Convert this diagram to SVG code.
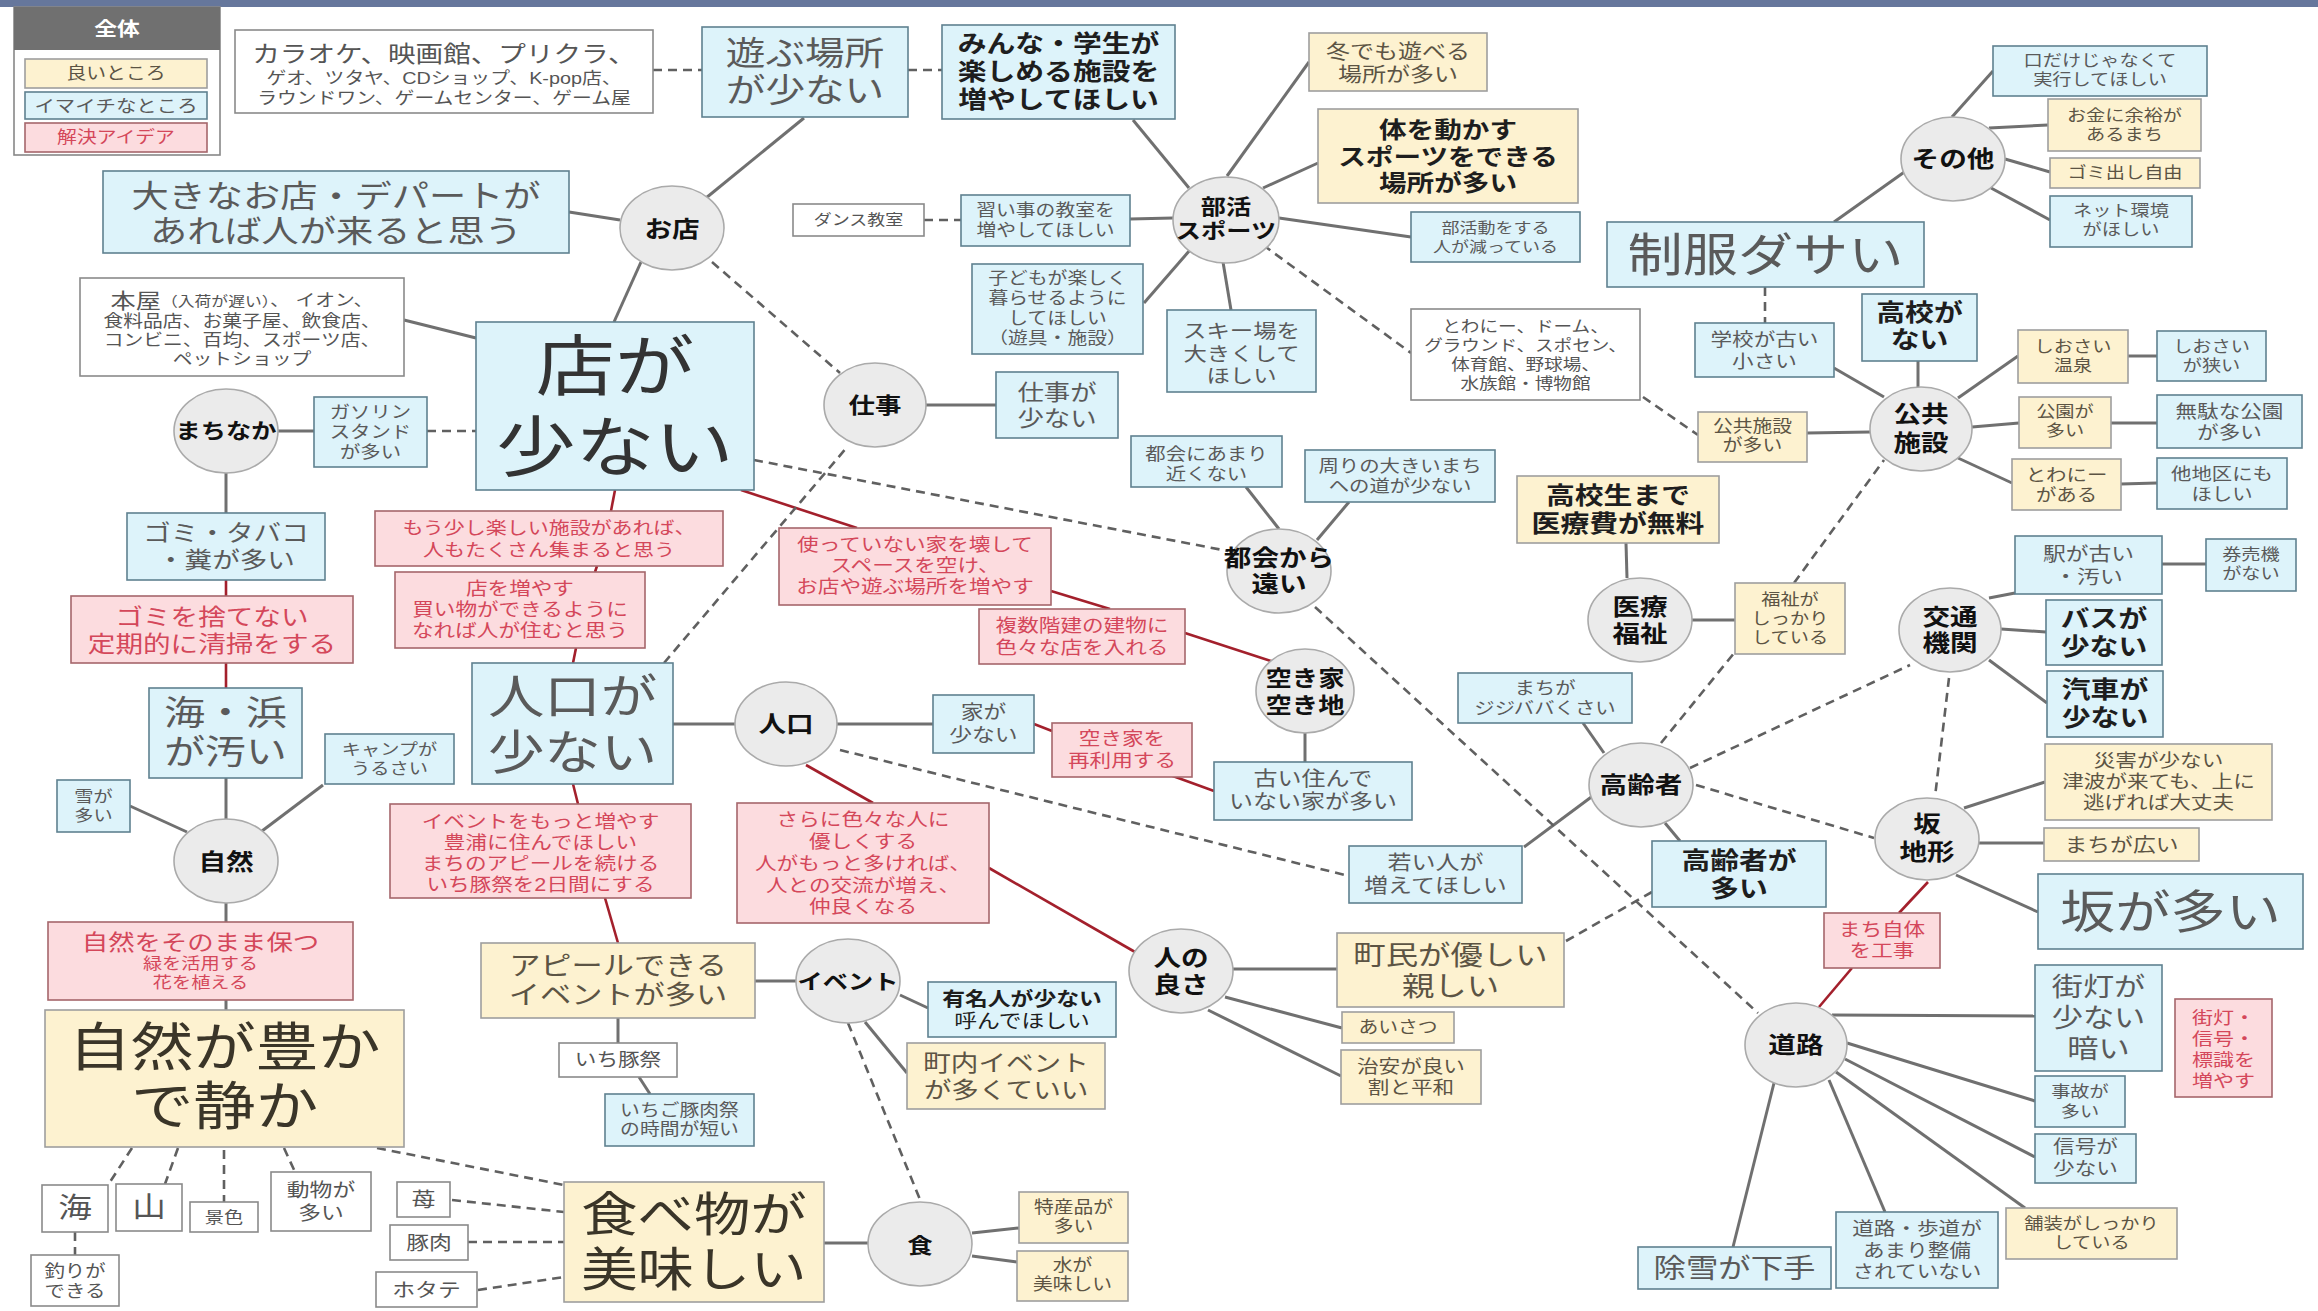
<svg xmlns="http://www.w3.org/2000/svg" width="2318" height="1311" viewBox="0 0 2318 1311">
<style>
.b{fill:#ddf3fa;stroke:#5f8190;stroke-width:1.6}
.y{fill:#fdf2d0;stroke:#9e9e9e;stroke-width:1.6}
.p{fill:#fcdcdf;stroke:#a5666b;stroke-width:1.6}
.w{fill:#fff;stroke:#8a8a8a;stroke-width:1.6}
.c{fill:#ebebeb;stroke:#aaa;stroke-width:1.6}
.t{font-family:"Liberation Sans","Noto Sans CJK JP","Noto Sans CJK SC",sans-serif;text-anchor:middle;dominant-baseline:central;transform-box:fill-box;transform-origin:center;transform:scaleX(1.2)}
.tb{fill:#5a5a5a}
.ty{fill:#5c5444}
.tp{fill:#d4475a}
.tw{fill:#555}
.tk{fill:#1e1e1e;font-weight:bold}
.tc{fill:#111;font-weight:bold}
.cg{stroke:#707070;stroke-width:3;fill:none}
.cr{stroke:#a3202c;stroke-width:2.6;fill:none}
.cd{stroke:#606060;stroke-width:2.6;stroke-dasharray:9 6;fill:none}
</style>
<rect x="0" y="0" width="2318" height="1311" fill="#fff"/>
<rect x="0" y="0" width="2318" height="7" fill="#66779c"/>

<g id="legend">
<rect x="14" y="7" width="206" height="148" fill="#fff" stroke="#888" stroke-width="1.6"/>
<rect x="14" y="7" width="206" height="43" fill="#707070"/>
<text class="t" x="117" y="29" font-size="19" fill="#fff" font-weight="bold">全体</text>
<rect class="y" x="25" y="59" width="182" height="29"/>
<text class="t ty" x="116" y="74" font-size="16.5">良いところ</text>
<rect class="b" x="25" y="92" width="182" height="27"/>
<text class="t tb" x="116" y="106" font-size="17">イマイチなところ</text>
<rect class="p" x="25" y="123" width="182" height="29"/>
<text class="t tp" x="116" y="138" font-size="16.5">解決アイデア</text>
</g>

<g id="connectors">
<line class="cg" x1="804" y1="118" x2="706" y2="198"/>
<line class="cg" x1="569" y1="212" x2="620" y2="220"/>
<line class="cg" x1="641" y1="262" x2="614" y2="322"/>
<line class="cg" x1="404" y1="320" x2="476" y2="338"/>
<line class="cg" x1="278" y1="431" x2="314" y2="431"/>
<line class="cg" x1="226" y1="473" x2="226" y2="513"/>
<line class="cg" x1="226" y1="778" x2="226" y2="820"/>
<line class="cg" x1="130" y1="806" x2="187" y2="832"/>
<line class="cg" x1="323" y1="785" x2="262" y2="831"/>
<line class="cg" x1="226" y1="903" x2="226" y2="922"/>
<line class="cg" x1="226" y1="1000" x2="226" y2="1010"/>
<line class="cg" x1="824" y1="1243" x2="869" y2="1243"/>
<line class="cg" x1="972" y1="1233" x2="1019" y2="1228"/>
<line class="cg" x1="972" y1="1256" x2="1017" y2="1262"/>
<line class="cg" x1="755" y1="981" x2="796" y2="981"/>
<line class="cg" x1="618" y1="1018" x2="618" y2="1043"/>
<line class="cg" x1="639" y1="1077" x2="650" y2="1094"/>
<line class="cg" x1="900" y1="995" x2="928" y2="1008"/>
<line class="cg" x1="865" y1="1022" x2="907" y2="1073"/>
<line class="cg" x1="673" y1="724" x2="735" y2="724"/>
<line class="cg" x1="837" y1="724" x2="933" y2="724"/>
<line class="cg" x1="1305" y1="733" x2="1305" y2="762"/>
<line class="cg" x1="1233" y1="969" x2="1337" y2="969"/>
<line class="cg" x1="1225" y1="997" x2="1342" y2="1028"/>
<line class="cg" x1="1208" y1="1010" x2="1341" y2="1076"/>
<line class="cg" x1="1524" y1="847" x2="1594" y2="795"/>
<line class="cg" x1="1604" y1="753" x2="1583" y2="723"/>
<line class="cg" x1="1665" y1="823" x2="1680" y2="841"/>
<line class="cg" x1="1279" y1="529" x2="1246" y2="487"/>
<line class="cg" x1="1317" y1="540" x2="1349" y2="502"/>
<line class="cg" x1="1692" y1="620" x2="1735" y2="620"/>
<line class="cg" x1="1627" y1="578" x2="1626" y2="543"/>
<line class="cg" x1="1989" y1="598" x2="2015" y2="593"/>
<line class="cg" x1="2001" y1="629" x2="2046" y2="632"/>
<line class="cg" x1="1989" y1="660" x2="2047" y2="703"/>
<line class="cg" x1="2162" y1="564" x2="2206" y2="564"/>
<line class="cg" x1="1964" y1="808" x2="2045" y2="782"/>
<line class="cg" x1="1979" y1="843" x2="2044" y2="843"/>
<line class="cg" x1="1956" y1="875" x2="2038" y2="912"/>
<line class="cg" x1="1832" y1="1015" x2="2035" y2="1016"/>
<line class="cg" x1="1847" y1="1043" x2="2035" y2="1101"/>
<line class="cg" x1="1845" y1="1059" x2="2035" y2="1157"/>
<line class="cg" x1="1836" y1="1072" x2="2025" y2="1208"/>
<line class="cg" x1="1829" y1="1080" x2="1885" y2="1212"/>
<line class="cg" x1="1774" y1="1083" x2="1733" y2="1247"/>
<line class="cg" x1="1884" y1="397" x2="1834" y2="368"/>
<line class="cg" x1="1918" y1="388" x2="1918" y2="361"/>
<line class="cg" x1="1958" y1="398" x2="2018" y2="356"/>
<line class="cg" x1="1972" y1="427" x2="2019" y2="423"/>
<line class="cg" x1="1958" y1="458" x2="2012" y2="483"/>
<line class="cg" x1="1870" y1="432" x2="1807" y2="433"/>
<line class="cg" x1="2128" y1="356" x2="2157" y2="356"/>
<line class="cg" x1="2111" y1="423" x2="2157" y2="423"/>
<line class="cg" x1="2121" y1="484" x2="2157" y2="483"/>
<line class="cg" x1="1834" y1="222" x2="1910" y2="168"/>
<line class="cg" x1="1952" y1="117" x2="1993" y2="71"/>
<line class="cg" x1="1989" y1="128" x2="2048" y2="125"/>
<line class="cg" x1="2005" y1="159" x2="2050" y2="172"/>
<line class="cg" x1="1991" y1="188" x2="2050" y2="220"/>
<line class="cg" x1="1227" y1="176" x2="1309" y2="62"/>
<line class="cg" x1="1263" y1="188" x2="1318" y2="163"/>
<line class="cg" x1="1279" y1="218" x2="1411" y2="237"/>
<line class="cg" x1="1223" y1="262" x2="1231" y2="310"/>
<line class="cg" x1="1130" y1="219" x2="1173" y2="218"/>
<line class="cg" x1="1144" y1="303" x2="1190" y2="250"/>
<line class="cg" x1="1133" y1="120" x2="1189" y2="188"/>
<line class="cg" x1="926" y1="405" x2="996" y2="405"/>
<line class="cr" x1="226" y1="580" x2="226" y2="596"/>
<line class="cr" x1="226" y1="663" x2="226" y2="688"/>
<line class="cr" x1="605" y1="898" x2="618" y2="943"/>
<line class="cr" x1="573" y1="784" x2="578" y2="804"/>
<line class="cr" x1="573" y1="663" x2="576" y2="648"/>
<line class="cr" x1="595" y1="572" x2="597" y2="566"/>
<line class="cr" x1="611" y1="511" x2="615" y2="490"/>
<line class="cr" x1="741" y1="490" x2="857" y2="528"/>
<line class="cr" x1="1051" y1="591" x2="1110" y2="609"/>
<line class="cr" x1="1185" y1="633" x2="1274" y2="662"/>
<line class="cr" x1="1034" y1="724" x2="1052" y2="731"/>
<line class="cr" x1="1170" y1="775" x2="1214" y2="791"/>
<line class="cr" x1="806" y1="765" x2="873" y2="803"/>
<line class="cr" x1="989" y1="868" x2="1135" y2="952"/>
<line class="cr" x1="1928" y1="882" x2="1899" y2="913"/>
<line class="cr" x1="1852" y1="968" x2="1819" y2="1007"/>
<line class="cd" x1="653" y1="70" x2="702" y2="70"/>
<line class="cd" x1="908" y1="70" x2="942" y2="70"/>
<line class="cd" x1="712" y1="262" x2="840" y2="373"/>
<line class="cd" x1="427" y1="431" x2="476" y2="431"/>
<line class="cd" x1="924" y1="220" x2="961" y2="220"/>
<line class="cd" x1="754" y1="460" x2="1228" y2="551"/>
<line class="cd" x1="664" y1="663" x2="848" y2="446"/>
<line class="cd" x1="840" y1="750" x2="1349" y2="876"/>
<line class="cd" x1="1566" y1="941" x2="1652" y2="892"/>
<line class="cd" x1="1315" y1="607" x2="1758" y2="1013"/>
<line class="cd" x1="1661" y1="743" x2="1735" y2="652"/>
<line class="cd" x1="1794" y1="583" x2="1884" y2="460"/>
<line class="cd" x1="1690" y1="768" x2="1910" y2="665"/>
<line class="cd" x1="1696" y1="785" x2="1874" y2="838"/>
<line class="cd" x1="1949" y1="678" x2="1935" y2="797"/>
<line class="cd" x1="1765" y1="287" x2="1765" y2="323"/>
<line class="cd" x1="1643" y1="397" x2="1698" y2="435"/>
<line class="cd" x1="1263" y1="245" x2="1411" y2="353"/>
<line class="cd" x1="132" y1="1148" x2="108" y2="1185"/>
<line class="cd" x1="178" y1="1148" x2="165" y2="1184"/>
<line class="cd" x1="224" y1="1150" x2="224" y2="1202"/>
<line class="cd" x1="284" y1="1148" x2="295" y2="1172"/>
<line class="cd" x1="377" y1="1148" x2="564" y2="1185"/>
<line class="cd" x1="75" y1="1232" x2="75" y2="1255"/>
<line class="cd" x1="452" y1="1200" x2="564" y2="1212"/>
<line class="cd" x1="468" y1="1242" x2="564" y2="1242"/>
<line class="cd" x1="478" y1="1290" x2="564" y2="1277"/>
<line class="cd" x1="848" y1="1023" x2="921" y2="1202"/>
</g>

<g id="n-karaoke"><rect class="w" x="235" y="30" width="418" height="83"/>
<text class="t tw"><tspan x="444" y="54" font-size="23">カラオケ、映画館、プリクラ、</tspan><tspan x="444" y="79" font-size="16.5">ゲオ、ツタヤ、CDショップ、K-pop店、</tspan><tspan x="444" y="99" font-size="16.5">ラウンドワン、ゲームセンター、ゲーム屋</tspan></text></g>
<g id="n-asobu"><rect class="b" x="702" y="27" width="206" height="90"/>
<text class="t tb" font-size="33"><tspan x="805" y="53">遊ぶ場所</tspan><tspan x="805" y="90.5">が少ない</tspan></text></g>
<g id="n-minna"><rect class="b" x="942" y="25" width="233" height="94"/>
<text class="t tk" font-size="24"><tspan x="1058.5" y="44">みんな・学生が</tspan><tspan x="1058.5" y="72">楽しめる施設を</tspan><tspan x="1058.5" y="100">増やしてほしい</tspan></text></g>
<g id="n-ookina"><rect class="b" x="103" y="171" width="466" height="82"/>
<text class="t tb" font-size="31"><tspan x="336" y="196">大きなお店・デパートが</tspan><tspan x="336" y="231">あれば人が来ると思う</tspan></text></g>
<g id="n-honya"><rect class="w" x="80" y="278" width="324" height="98"/>
<text class="t tw" font-size="16.5"><tspan x="242" y="301"><tspan font-size="21">本屋</tspan><tspan font-size="14">（入荷が遅い）</tspan>、 イオン、</tspan><tspan x="242" y="322">食料品店、お菓子屋、飲食店、</tspan><tspan x="242" y="341">コンビニ、百均、スポーツ店、</tspan><tspan x="242" y="360">ペットショップ</tspan></text></g>
<g id="n-dance"><rect class="w" x="793" y="204" width="131" height="32"/>
<text class="t tw" x="858.5" y="220" font-size="15">ダンス教室</text></g>
<g id="n-narai"><rect class="b" x="961" y="195" width="169" height="51"/>
<text class="t tb" font-size="16.5"><tspan x="1045.5" y="211">習い事の教室を</tspan><tspan x="1045.5" y="231">増やしてほしい</tspan></text></g>
<g id="n-kodomo"><rect class="b" x="972" y="264" width="171" height="90"/>
<text class="t tb" font-size="16.5"><tspan x="1057.5" y="279">子どもが楽しく</tspan><tspan x="1057.5" y="299">暮らせるように</tspan><tspan x="1057.5" y="319">してほしい</tspan><tspan x="1057.5" y="339">（遊具・施設）</tspan></text></g>
<g id="n-shigotoga"><rect class="b" x="996" y="372" width="122" height="66"/>
<text class="t tb" font-size="22"><tspan x="1057" y="392">仕事が</tspan><tspan x="1057" y="418">少ない</tspan></text></g>
<g id="n-fuyu"><rect class="y" x="1309" y="33" width="178" height="58"/>
<text class="t ty" font-size="20"><tspan x="1398" y="52">冬でも遊べる</tspan><tspan x="1398" y="75">場所が多い</tspan></text></g>
<g id="n-karada"><rect class="y" x="1318" y="109" width="260" height="94"/>
<text class="t tk" font-size="23"><tspan x="1448" y="130">体を動かす</tspan><tspan x="1448" y="157">スポーツをできる</tspan><tspan x="1448" y="183">場所が多い</tspan></text></g>
<g id="n-bukatsudo"><rect class="b" x="1411" y="212" width="169" height="50"/>
<text class="t tb" font-size="15"><tspan x="1495.5" y="228">部活動をする</tspan><tspan x="1495.5" y="247">人が減っている</tspan></text></g>
<g id="n-seifuku"><rect class="b" x="1607" y="222" width="317" height="65"/>
<text class="t tb" x="1765.5" y="255" font-size="46">制服ダサい</text></g>
<g id="n-ski"><rect class="b" x="1167" y="310" width="149" height="82"/>
<text class="t tb" font-size="19.5"><tspan x="1241.5" y="332">スキー場を</tspan><tspan x="1241.5" y="355">大きくして</tspan><tspan x="1241.5" y="377">ほしい</tspan></text></g>
<g id="n-towany-list"><rect class="w" x="1411" y="309" width="229" height="91"/>
<text class="t tw" font-size="15.5"><tspan x="1525.5" y="327">とわにー、ドーム、</tspan><tspan x="1525.5" y="346">グラウンド、スポセン、</tspan><tspan x="1525.5" y="365">体育館、野球場、</tspan><tspan x="1525.5" y="384">水族館・博物館</tspan></text></g>
<g id="n-gakko"><rect class="b" x="1695" y="323" width="139" height="54"/>
<text class="t tb" font-size="18"><tspan x="1764.5" y="340">学校が古い</tspan><tspan x="1764.5" y="362">小さい</tspan></text></g>
<g id="n-kokyo-ooi"><rect class="y" x="1698" y="412" width="109" height="50"/>
<text class="t ty" font-size="16.5"><tspan x="1752.5" y="427">公共施設</tspan><tspan x="1752.5" y="446">が多い</tspan></text></g>
<g id="n-kuchi"><rect class="b" x="1993" y="46" width="214" height="50"/>
<text class="t tb" font-size="16"><tspan x="2100" y="61">口だけじゃなくて</tspan><tspan x="2100" y="80">実行してほしい</tspan></text></g>
<g id="n-okane"><rect class="y" x="2048" y="99" width="153" height="52"/>
<text class="t ty" font-size="16"><tspan x="2124.5" y="116">お金に余裕が</tspan><tspan x="2124.5" y="135">あるまち</tspan></text></g>
<g id="n-gomidashi"><rect class="y" x="2050" y="158" width="150" height="30"/>
<text class="t ty" x="2125" y="173" font-size="16">ゴミ出し自由</text></g>
<g id="n-net"><rect class="b" x="2050" y="196" width="142" height="51"/>
<text class="t tb" font-size="16"><tspan x="2121" y="211">ネット環境</tspan><tspan x="2121" y="230">がほしい</tspan></text></g>
<g id="n-kokoga"><rect class="b" x="1862" y="294" width="115" height="67"/>
<text class="t tk" font-size="24"><tspan x="1919.5" y="313">高校が</tspan><tspan x="1919.5" y="340">ない</tspan></text></g>
<g id="n-shiosai-onsen"><rect class="y" x="2018" y="330" width="110" height="53"/>
<text class="t ty" font-size="16"><tspan x="2073" y="347">しおさい</tspan><tspan x="2073" y="366">温泉</tspan></text></g>
<g id="n-shiosai-semai"><rect class="b" x="2157" y="331" width="109" height="50"/>
<text class="t tb" font-size="16"><tspan x="2211.5" y="347">しおさい</tspan><tspan x="2211.5" y="366">が狭い</tspan></text></g>
<g id="n-koen"><rect class="y" x="2019" y="397" width="92" height="51"/>
<text class="t ty" font-size="16"><tspan x="2065" y="412">公園が</tspan><tspan x="2065" y="431">多い</tspan></text></g>
<g id="n-muda"><rect class="b" x="2157" y="395" width="145" height="53"/>
<text class="t tb" font-size="18"><tspan x="2229.5" y="412">無駄な公園</tspan><tspan x="2229.5" y="433">が多い</tspan></text></g>
<g id="n-towany-aru"><rect class="y" x="2012" y="459" width="109" height="51"/>
<text class="t ty" font-size="17"><tspan x="2066.5" y="475">とわにー</tspan><tspan x="2066.5" y="495">がある</tspan></text></g>
<g id="n-tachiku"><rect class="b" x="2157" y="458" width="130" height="51"/>
<text class="t tb" font-size="17"><tspan x="2222" y="474">他地区にも</tspan><tspan x="2222" y="494">ほしい</tspan></text></g>
<g id="n-eki"><rect class="b" x="2015" y="536" width="147" height="58"/>
<text class="t tb" font-size="19"><tspan x="2088.5" y="554">駅が古い</tspan><tspan x="2088.5" y="577">・汚い</tspan></text></g>
<g id="n-kenbaiki"><rect class="b" x="2206" y="539" width="90" height="52"/>
<text class="t tb" font-size="16"><tspan x="2251" y="555">券売機</tspan><tspan x="2251" y="574">がない</tspan></text></g>
<g id="n-bus"><rect class="b" x="2046" y="600" width="116" height="65"/>
<text class="t tk" font-size="24"><tspan x="2104" y="619">バスが</tspan><tspan x="2104" y="647">少ない</tspan></text></g>
<g id="n-kisha"><rect class="b" x="2047" y="671" width="116" height="66"/>
<text class="t tk" font-size="24"><tspan x="2105" y="690">汽車が</tspan><tspan x="2105" y="718">少ない</tspan></text></g>
<g id="n-fukushi"><rect class="y" x="1735" y="583" width="110" height="71"/>
<text class="t ty" font-size="16"><tspan x="1790" y="600">福祉が</tspan><tspan x="1790" y="619">しっかり</tspan><tspan x="1790" y="638">している</tspan></text></g>
<g id="n-saigai"><rect class="y" x="2045" y="744" width="227" height="76"/>
<text class="t ty" font-size="18"><tspan x="2158.5" y="761">災害が少ない</tspan><tspan x="2158.5" y="782">津波が来ても、上に</tspan><tspan x="2158.5" y="803">逃げれば大丈夫</tspan></text></g>
<g id="n-hiroi"><rect class="y" x="2044" y="828" width="155" height="33"/>
<text class="t ty" x="2121.5" y="845" font-size="19">まちが広い</text></g>
<g id="n-sakagaooi"><rect class="b" x="2038" y="874" width="265" height="75"/>
<text class="t tb" x="2170.5" y="912" font-size="46">坂が多い</text></g>
<g id="n-machijitai"><rect class="p" x="1824" y="913" width="116" height="55"/>
<text class="t tp" font-size="18"><tspan x="1882" y="930">まち自体</tspan><tspan x="1882" y="951">を工事</tspan></text></g>
<g id="n-gaito"><rect class="b" x="2035" y="965" width="127" height="106"/>
<text class="t tb" font-size="26"><tspan x="2098.5" y="987">街灯が</tspan><tspan x="2098.5" y="1018">少ない</tspan><tspan x="2098.5" y="1049">暗い</tspan></text></g>
<g id="n-gaito-fuyasu"><rect class="p" x="2175" y="999" width="97" height="98"/>
<text class="t tp" font-size="17.5"><tspan x="2223.5" y="1018">街灯・</tspan><tspan x="2223.5" y="1039">信号・</tspan><tspan x="2223.5" y="1060">標識を</tspan><tspan x="2223.5" y="1081">増やす</tspan></text></g>
<g id="n-jiko"><rect class="b" x="2035" y="1076" width="90" height="51"/>
<text class="t tb" font-size="16"><tspan x="2080" y="1092">事故が</tspan><tspan x="2080" y="1112">多い</tspan></text></g>
<g id="n-shingo"><rect class="b" x="2035" y="1134" width="101" height="49"/>
<text class="t tb" font-size="18"><tspan x="2085.5" y="1147">信号が</tspan><tspan x="2085.5" y="1169">少ない</tspan></text></g>
<g id="n-hoso"><rect class="y" x="2006" y="1208" width="171" height="51"/>
<text class="t ty" font-size="16"><tspan x="2091.5" y="1224">舗装がしっかり</tspan><tspan x="2091.5" y="1243">している</tspan></text></g>
<g id="n-doro-hodo"><rect class="b" x="1836" y="1212" width="162" height="76"/>
<text class="t tb" font-size="18"><tspan x="1917" y="1229">道路・歩道が</tspan><tspan x="1917" y="1251">あまり整備</tspan><tspan x="1917" y="1272">されていない</tspan></text></g>
<g id="n-josetsu"><rect class="b" x="1638" y="1247" width="193" height="42"/>
<text class="t tb" x="1734.5" y="1268" font-size="27">除雪が下手</text></g>
<g id="n-tokai-chikaku"><rect class="b" x="1131" y="436" width="151" height="51"/>
<text class="t tb" font-size="17"><tspan x="1206.5" y="454">都会にあまり</tspan><tspan x="1206.5" y="474">近くない</tspan></text></g>
<g id="n-mawari"><rect class="b" x="1305" y="450" width="190" height="52"/>
<text class="t tb" font-size="17"><tspan x="1400" y="466">周りの大きいまち</tspan><tspan x="1400" y="486">への道が少ない</tspan></text></g>
<g id="n-iryohi"><rect class="y" x="1517" y="476" width="202" height="67"/>
<text class="t tk" font-size="24"><tspan x="1618" y="496">高校生まで</tspan><tspan x="1618" y="524">医療費が無料</tspan></text></g>
<g id="n-furui-ie"><rect class="b" x="1214" y="762" width="198" height="58"/>
<text class="t tb" font-size="20"><tspan x="1313" y="779">古い住んで</tspan><tspan x="1313" y="802">いない家が多い</tspan></text></g>
<g id="n-jijibaba"><rect class="b" x="1458" y="673" width="174" height="50"/>
<text class="t tb" font-size="17"><tspan x="1545" y="688">まちが</tspan><tspan x="1545" y="708">ジジババくさい</tspan></text></g>
<g id="n-wakai"><rect class="b" x="1349" y="846" width="173" height="57"/>
<text class="t tb" font-size="20"><tspan x="1435.5" y="863">若い人が</tspan><tspan x="1435.5" y="886">増えてほしい</tspan></text></g>
<g id="n-koreisha-ooi"><rect class="b" x="1652" y="841" width="174" height="66"/>
<text class="t tk" font-size="24"><tspan x="1739" y="861">高齢者が</tspan><tspan x="1739" y="889">多い</tspan></text></g>
<g id="n-tsukatte"><rect class="p" x="779" y="528" width="272" height="77"/>
<text class="t tp" font-size="18"><tspan x="915" y="545">使っていない家を壊して</tspan><tspan x="915" y="566">スペースを空け、</tspan><tspan x="915" y="587">お店や遊ぶ場所を増やす</tspan></text></g>
<g id="n-fukusu"><rect class="p" x="979" y="609" width="206" height="55"/>
<text class="t tp" font-size="18"><tspan x="1082" y="626">複数階建の建物に</tspan><tspan x="1082" y="648">色々な店を入れる</tspan></text></g>
<g id="n-iega"><rect class="b" x="933" y="695" width="101" height="58"/>
<text class="t tb" font-size="19"><tspan x="983.5" y="712">家が</tspan><tspan x="983.5" y="735">少ない</tspan></text></g>
<g id="n-akiya-sairiyo"><rect class="p" x="1052" y="723" width="140" height="54"/>
<text class="t tp" font-size="18"><tspan x="1122" y="739">空き家を</tspan><tspan x="1122" y="761">再利用する</tspan></text></g>
<g id="n-jinko-sukunai"><rect class="b" x="472" y="663" width="201" height="121"/>
<text class="t tb" font-size="47"><tspan x="572.5" y="697">人口が</tspan><tspan x="572.5" y="753">少ない</tspan></text></g>
<g id="n-sarani"><rect class="p" x="737" y="803" width="252" height="120"/>
<text class="t tp" font-size="18"><tspan x="863" y="820">さらに色々な人に</tspan><tspan x="863" y="842">優しくする</tspan><tspan x="863" y="864">人がもっと多ければ、</tspan><tspan x="863" y="886">人との交流が増え、</tspan><tspan x="863" y="907">仲良くなる</tspan></text></g>
<g id="n-mosukoshi"><rect class="p" x="375" y="511" width="348" height="55"/>
<text class="t tp" font-size="17.5"><tspan x="549" y="528">もう少し楽しい施設があれば、</tspan><tspan x="549" y="550">人もたくさん集まると思う</tspan></text></g>
<g id="n-mise-fuyasu"><rect class="p" x="395" y="572" width="250" height="76"/>
<text class="t tp" font-size="18"><tspan x="520" y="589">店を増やす</tspan><tspan x="520" y="610">買い物ができるように</tspan><tspan x="520" y="631">なれば人が住むと思う</tspan></text></g>
<g id="n-mise-sukunai"><rect class="b" x="476" y="322" width="278" height="168"/>
<text class="t" font-size="66" fill="#333"><tspan x="615" y="366">店が</tspan><tspan x="615" y="447">少ない</tspan></text></g>
<g id="n-gomi-tabako"><rect class="b" x="127" y="513" width="198" height="67"/>
<text class="t tb" font-size="23"><tspan x="226" y="533">ゴミ・タバコ</tspan><tspan x="226" y="560">・糞が多い</tspan></text></g>
<g id="n-gomi-sutenai"><rect class="p" x="71" y="596" width="282" height="67"/>
<text class="t tp" font-size="23"><tspan x="212" y="617">ゴミを捨てない</tspan><tspan x="212" y="644">定期的に清掃をする</tspan></text></g>
<g id="n-umi-hama"><rect class="b" x="149" y="688" width="153" height="90"/>
<text class="t tb" font-size="34"><tspan x="225.5" y="713">海・浜</tspan><tspan x="225.5" y="752">が汚い</tspan></text></g>
<g id="n-camp"><rect class="b" x="325" y="734" width="129" height="50"/>
<text class="t tb" font-size="16"><tspan x="389.5" y="750">キャンプが</tspan><tspan x="389.5" y="769">うるさい</tspan></text></g>
<g id="n-yuki"><rect class="b" x="57" y="780" width="73" height="52"/>
<text class="t tb" font-size="16"><tspan x="93.5" y="797">雪が</tspan><tspan x="93.5" y="816">多い</tspan></text></g>
<g id="n-gasoline"><rect class="b" x="314" y="397" width="113" height="70"/>
<text class="t tb" font-size="17"><tspan x="370.5" y="412">ガソリン</tspan><tspan x="370.5" y="432">スタンド</tspan><tspan x="370.5" y="452">が多い</tspan></text></g>
<g id="n-event-fuyasu"><rect class="p" x="390" y="804" width="301" height="94"/>
<text class="t tp" font-size="18"><tspan x="540.5" y="822">イベントをもっと増やす</tspan><tspan x="540.5" y="843">豊浦に住んでほしい</tspan><tspan x="540.5" y="864">まちのアピールを続ける</tspan><tspan x="540.5" y="885">いち豚祭を2日間にする</tspan></text></g>
<g id="n-shizen-tamotsu"><rect class="p" x="48" y="922" width="305" height="78"/>
<text class="t tp"><tspan x="200.5" y="942" font-size="22">自然をそのまま保つ</tspan><tspan x="200.5" y="964" font-size="16">緑を活用する</tspan><tspan x="200.5" y="983" font-size="16">花を植える</tspan></text></g>
<g id="n-shizen-yutaka"><rect class="y" x="45" y="1010" width="359" height="137"/>
<text class="t" font-size="52" fill="#3a3528"><tspan x="224.5" y="1048">自然が豊か</tspan><tspan x="224.5" y="1107">で静か</tspan></text></g>
<g id="n-umi"><rect class="w" x="42" y="1185" width="66" height="47"/>
<text class="t tw" x="75" y="1209" font-size="28">海</text></g>
<g id="n-yama"><rect class="w" x="116" y="1184" width="66" height="47"/>
<text class="t tw" x="149" y="1208" font-size="28">山</text></g>
<g id="n-keshiki"><rect class="w" x="190" y="1202" width="68" height="30"/>
<text class="t tw" x="224" y="1218" font-size="16">景色</text></g>
<g id="n-dobutsu"><rect class="w" x="271" y="1172" width="100" height="59"/>
<text class="t tw" font-size="19"><tspan x="321" y="1190">動物が</tspan><tspan x="321" y="1213">多い</tspan></text></g>
<g id="n-tsuri"><rect class="w" x="31" y="1255" width="88" height="51"/>
<text class="t tw" font-size="17"><tspan x="75" y="1271">釣りが</tspan><tspan x="75" y="1291">できる</tspan></text></g>
<g id="n-ichigo"><rect class="w" x="397" y="1182" width="53" height="35"/>
<text class="t tw" x="423.5" y="1200" font-size="20">苺</text></g>
<g id="n-butaniku"><rect class="w" x="390" y="1225" width="78" height="35"/>
<text class="t tw" x="429" y="1243" font-size="19">豚肉</text></g>
<g id="n-hotate"><rect class="w" x="376" y="1272" width="101" height="35"/>
<text class="t tw" x="426.5" y="1290" font-size="19">ホタテ</text></g>
<g id="n-tabemono"><rect class="y" x="564" y="1182" width="260" height="120"/>
<text class="t" font-size="47" fill="#3a3528"><tspan x="694" y="1215">食べ物が</tspan><tspan x="694" y="1270">美味しい</tspan></text></g>
<g id="n-appeal"><rect class="y" x="481" y="943" width="274" height="75"/>
<text class="t ty" font-size="26"><tspan x="618" y="966">アピールできる</tspan><tspan x="618" y="995">イベントが多い</tspan></text></g>
<g id="n-ichibuta"><rect class="w" x="559" y="1043" width="118" height="34"/>
<text class="t tw" x="618" y="1060" font-size="18">いち豚祭</text></g>
<g id="n-yumeijin"><rect class="b" x="928" y="982" width="188" height="55"/>
<text class="t tk" font-size="19"><tspan x="1022" y="999">有名人が少ない</tspan><tspan x="1022" y="1021" font-weight="normal">呼んでほしい</tspan></text></g>
<g id="n-chonai"><rect class="y" x="907" y="1043" width="198" height="66"/>
<text class="t ty" font-size="23"><tspan x="1006" y="1063">町内イベント</tspan><tspan x="1006" y="1090">が多くていい</tspan></text></g>
<g id="n-ichigo-butaniku"><rect class="b" x="605" y="1094" width="149" height="52"/>
<text class="t tb" font-size="16.5"><tspan x="679.5" y="1111">いちご豚肉祭</tspan><tspan x="679.5" y="1130">の時間が短い</tspan></text></g>
<g id="n-tokusan"><rect class="y" x="1019" y="1192" width="109" height="51"/>
<text class="t ty" font-size="16.5"><tspan x="1073.5" y="1208">特産品が</tspan><tspan x="1073.5" y="1227">多い</tspan></text></g>
<g id="n-mizu"><rect class="y" x="1017" y="1251" width="111" height="50"/>
<text class="t ty" font-size="16.5"><tspan x="1072.5" y="1266">水が</tspan><tspan x="1072.5" y="1285">美味しい</tspan></text></g>
<g id="n-chomin"><rect class="y" x="1337" y="933" width="227" height="74"/>
<text class="t ty" font-size="27"><tspan x="1450.5" y="955">町民が優しい</tspan><tspan x="1450.5" y="986">親しい</tspan></text></g>
<g id="n-aisatsu"><rect class="y" x="1342" y="1012" width="112" height="31"/>
<text class="t ty" x="1398" y="1028" font-size="16.5">あいさつ</text></g>
<g id="n-chian"><rect class="y" x="1341" y="1050" width="140" height="54"/>
<text class="t ty" font-size="18"><tspan x="1411" y="1067">治安が良い</tspan><tspan x="1411" y="1088">割と平和</tspan></text></g>

<g id="c-machinaka"><ellipse class="c" cx="226" cy="431" rx="52" ry="42"/><text class="t tc" x="226" y="431" font-size="21">まちなか</text></g>
<g id="c-omise"><ellipse class="c" cx="672" cy="228" rx="52" ry="42"/><text class="t tc" x="672" y="229" font-size="23">お店</text></g>
<g id="c-shigoto"><ellipse class="c" cx="875" cy="405" rx="51" ry="42"/><text class="t tc" x="875" y="405" font-size="22">仕事</text></g>
<g id="c-bukatsu"><ellipse class="c" cx="1226" cy="220" rx="53" ry="43"/><text class="t tc" font-size="21"><tspan x="1226" y="207">部活</tspan><tspan x="1226" y="231">スポーツ</tspan></text></g>
<g id="c-sonota"><ellipse class="c" cx="1953" cy="159" rx="52" ry="42"/><text class="t tc" x="1953" y="159" font-size="23">その他</text></g>
<g id="c-kokyo"><ellipse class="c" cx="1921" cy="429" rx="51" ry="42"/><text class="t tc" font-size="23"><tspan x="1921" y="414">公共</tspan><tspan x="1921" y="443">施設</tspan></text></g>
<g id="c-kotsu"><ellipse class="c" cx="1950" cy="630" rx="51" ry="42"/><text class="t tc" font-size="23"><tspan x="1950" y="617">交通</tspan><tspan x="1950" y="643">機関</tspan></text></g>
<g id="c-saka"><ellipse class="c" cx="1927" cy="839" rx="52" ry="41"/><text class="t tc" font-size="23"><tspan x="1927" y="824">坂</tspan><tspan x="1927" y="852">地形</tspan></text></g>
<g id="c-doro"><ellipse class="c" cx="1796" cy="1045" rx="51" ry="42"/><text class="t tc" x="1796" y="1045" font-size="23">道路</text></g>
<g id="c-tokai"><ellipse class="c" cx="1279" cy="571" rx="52" ry="42"/><text class="t tc" font-size="23"><tspan x="1279" y="558">都会から</tspan><tspan x="1279" y="584">遠い</tspan></text></g>
<g id="c-iryo"><ellipse class="c" cx="1640" cy="620" rx="52" ry="42"/><text class="t tc" font-size="23"><tspan x="1640" y="607">医療</tspan><tspan x="1640" y="634">福祉</tspan></text></g>
<g id="c-akiya"><ellipse class="c" cx="1305" cy="691" rx="49" ry="42"/><text class="t tc" font-size="22"><tspan x="1305" y="678">空き家</tspan><tspan x="1305" y="705">空き地</tspan></text></g>
<g id="c-koreisha"><ellipse class="c" cx="1641" cy="785" rx="52" ry="42"/><text class="t tc" x="1641" y="785" font-size="23">高齢者</text></g>
<g id="c-jinko"><ellipse class="c" cx="786" cy="724" rx="51" ry="42"/><text class="t tc" x="786" y="724" font-size="23">人口</text></g>
<g id="c-shizen"><ellipse class="c" cx="226" cy="861" rx="52" ry="42"/><text class="t tc" x="226" y="862" font-size="23">自然</text></g>
<g id="c-event"><ellipse class="c" cx="848" cy="981" rx="52" ry="42"/><text class="t tc" x="848" y="982" font-size="21">イベント</text></g>
<g id="c-shoku"><ellipse class="c" cx="920" cy="1244" rx="52" ry="42"/><text class="t tc" x="920" y="1246" font-size="21">食</text></g>
<g id="c-hitonoyosa"><ellipse class="c" cx="1181" cy="971" rx="52" ry="42"/><text class="t tc" font-size="23"><tspan x="1181" y="958">人の</tspan><tspan x="1181" y="985">良さ</tspan></text></g>
</svg>
